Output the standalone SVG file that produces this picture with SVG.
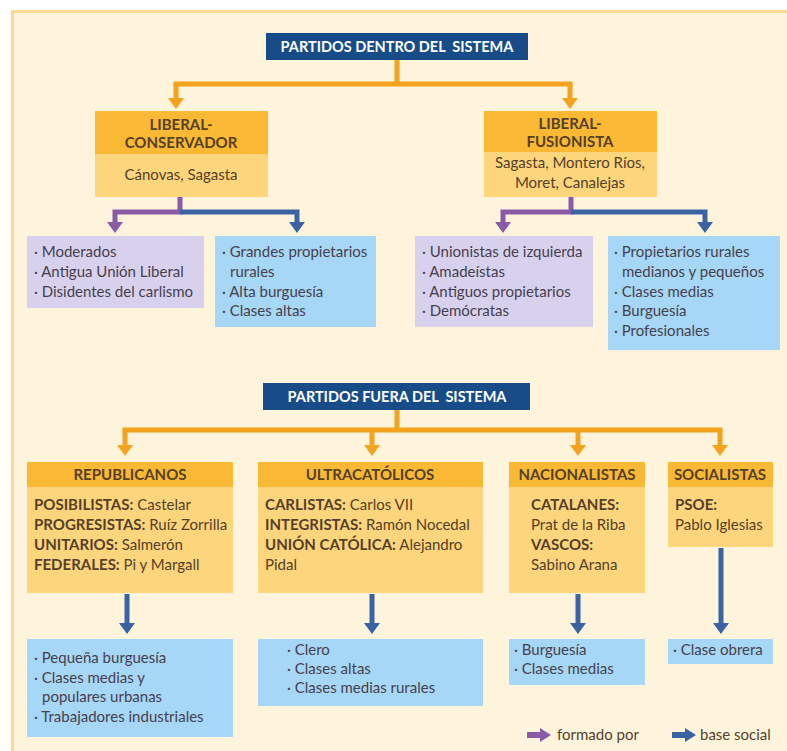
<svg xmlns="http://www.w3.org/2000/svg" width="787" height="751" viewBox="0 0 787 751">
<style>
.t{font-family:Lato,"Open Sans","Liberation Sans",sans-serif;font-size:15px;fill:#463f4c}
.b{font-weight:bold}
.hd{font-family:Lato,"Open Sans","Liberation Sans",sans-serif;font-size:14.5px;font-weight:bold;fill:#ffffff;white-space:pre}
.nh{font-family:Lato,"Open Sans","Liberation Sans",sans-serif;font-size:15px;font-weight:bold;fill:#55402a}
.ot{font-family:Lato,"Open Sans","Liberation Sans",sans-serif;font-size:15px;fill:#55402a}
.hdr{fill:#174c88}
.oh{fill:#f9b935}
.ob{fill:#fdd57c}
.li{fill:#d8d1ee}
.bl{fill:#a7d7f6}
.co{fill:none;stroke:#f4a31f;stroke-width:5}
.cp{fill:none;stroke:#8a5aa6;stroke-width:5}
.cb{fill:none;stroke:#3a63a3;stroke-width:5}
</style>
<defs>
<marker id="ao" markerUnits="userSpaceOnUse" markerWidth="12" markerHeight="16" refX="1" refY="8" orient="auto"><path d="M0,0 L11,8 L0,16 z" fill="#f4a31f"/></marker>
<marker id="ap" markerUnits="userSpaceOnUse" markerWidth="12" markerHeight="16" refX="1" refY="8" orient="auto"><path d="M0,0 L11,8 L0,16 z" fill="#8a5aa6"/></marker>
<marker id="ab" markerUnits="userSpaceOnUse" markerWidth="12" markerHeight="16" refX="1" refY="8" orient="auto"><path d="M0,0 L11,8 L0,16 z" fill="#3a63a3"/></marker>
</defs>
<rect x="0" y="0" width="787" height="751" fill="#ffffff"/>
<rect x="12.5" y="11.5" width="800" height="760" fill="#fef4db" stroke="#fcd98f" stroke-width="3"/>

<g id="connectors">
<path class="co" d="M397,60 V84 M173.5,84 H572.5"/>
<path class="co" d="M176,84 V99" marker-end="url(#ao)"/>
<path class="co" d="M570,84 V99" marker-end="url(#ao)"/>
<path class="cp" d="M180,197 V212"/>
<path class="cp" d="M182.5,212 H115 V223" marker-end="url(#ap)"/>
<path class="cb" d="M180,212 H297 V223" marker-end="url(#ab)"/>
<path class="cp" d="M571,197 V212"/>
<path class="cp" d="M573.5,212 H503 V223" marker-end="url(#ap)"/>
<path class="cb" d="M571,212 H705 V223" marker-end="url(#ab)"/>
<path class="co" d="M397,410 V430 M122.5,430 H722.5"/>
<path class="co" d="M125,430 V446" marker-end="url(#ao)"/>
<path class="co" d="M372,430 V446" marker-end="url(#ao)"/>
<path class="co" d="M578,430 V446" marker-end="url(#ao)"/>
<path class="co" d="M720,430 V446" marker-end="url(#ao)"/>
<path class="cb" d="M127,594 V624" marker-end="url(#ab)"/>
<path class="cb" d="M372,594 V624" marker-end="url(#ab)"/>
<path class="cb" d="M578,594 V624" marker-end="url(#ab)"/>
<path class="cb" d="M721,548 V624" marker-end="url(#ab)"/>
</g>

<g id="dentro">
<rect class="hdr" x="266" y="33" width="262" height="27"/>
<text class="hd" x="397" y="52" text-anchor="middle" xml:space="preserve">PARTIDOS DENTRO DEL  SISTEMA</text>
</g>

<g id="liberal-conservador">
<rect class="oh" x="95" y="111" width="173" height="43"/>
<rect class="ob" x="95" y="154" width="173" height="43"/>
<text class="nh" x="181" y="130" text-anchor="middle">LIBERAL-</text>
<text class="nh" x="181" y="148" text-anchor="middle">CONSERVADOR</text>
<text class="ot" x="181" y="180" text-anchor="middle" font-size="16">Cánovas, Sagasta</text>
</g>

<g id="lc-formado">
<rect class="li" x="27" y="236" width="177" height="72"/>
<text class="t" x="34" y="257">· Moderados</text>
<text class="t" x="34" y="277">· Antigua Unión Liberal</text>
<text class="t" x="34" y="297">· Disidentes del carlismo</text>
</g>

<g id="lc-base">
<rect class="bl" x="215" y="236" width="161" height="91"/>
<text class="t" x="222" y="257">· Grandes propietarios</text>
<text class="t" x="230" y="277">rurales</text>
<text class="t" x="222" y="297">· Alta burguesía</text>
<text class="t" x="222" y="316">· Clases altas</text>
</g>

<g id="liberal-fusionista">
<rect class="oh" x="484" y="111" width="173" height="41"/>
<rect class="ob" x="484" y="152" width="173" height="45"/>
<text class="nh" x="570" y="129" text-anchor="middle">LIBERAL-</text>
<text class="nh" x="570" y="147" text-anchor="middle">FUSIONISTA</text>
<text class="ot" x="570" y="168" text-anchor="middle" font-size="16">Sagasta, Montero Ríos,</text>
<text class="ot" x="570" y="188" text-anchor="middle" font-size="16">Moret, Canalejas</text>
</g>

<g id="lf-formado">
<rect class="li" x="415" y="236" width="178" height="91"/>
<text class="t" x="422" y="257">· Unionistas de izquierda</text>
<text class="t" x="422" y="277">· Amadeístas</text>
<text class="t" x="422" y="297">· Antiguos propietarios</text>
<text class="t" x="422" y="316">· Demócratas</text>
</g>

<g id="lf-base">
<rect class="bl" x="608" y="236" width="172" height="114"/>
<text class="t" x="614" y="257">· Propietarios rurales</text>
<text class="t" x="622" y="277">medianos y pequeños</text>
<text class="t" x="614" y="297">· Clases medias</text>
<text class="t" x="614" y="316">· Burguesía</text>
<text class="t" x="614" y="336">· Profesionales</text>
</g>

<g id="fuera">
<rect class="hdr" x="263" y="383" width="267" height="27"/>
<text class="hd" x="397" y="402" text-anchor="middle" xml:space="preserve">PARTIDOS FUERA DEL  SISTEMA</text>
</g>

<g id="republicanos">
<rect class="oh" x="27" y="462" width="206" height="25"/>
<rect class="ob" x="27" y="487" width="206" height="106"/>
<text class="nh" x="130" y="480" text-anchor="middle">REPUBLICANOS</text>
<text class="ot" x="34" y="510"><tspan class="b">POSIBILISTAS:</tspan> Castelar</text>
<text class="ot" x="34" y="530"><tspan class="b">PROGRESISTAS:</tspan> Ruíz Zorrilla</text>
<text class="ot" x="34" y="550"><tspan class="b">UNITARIOS:</tspan> Salmerón</text>
<text class="ot" x="34" y="570"><tspan class="b">FEDERALES:</tspan> Pi y Margall</text>
</g>

<g id="ultracatolicos">
<rect class="oh" x="258" y="462" width="225" height="25"/>
<rect class="ob" x="258" y="487" width="225" height="106"/>
<text class="nh" x="370" y="480" text-anchor="middle">ULTRACATÓLICOS</text>
<text class="ot" x="265" y="510"><tspan class="b">CARLISTAS:</tspan> Carlos VII</text>
<text class="ot" x="265" y="530"><tspan class="b">INTEGRISTAS:</tspan> Ramón Nocedal</text>
<text class="ot" x="265" y="550"><tspan class="b">UNIÓN CATÓLICA:</tspan> Alejandro</text>
<text class="ot" x="265" y="570">Pidal</text>
</g>

<g id="nacionalistas">
<rect class="oh" x="509" y="462" width="136" height="25"/>
<rect class="ob" x="509" y="487" width="136" height="106"/>
<text class="nh" x="577" y="480" text-anchor="middle">NACIONALISTAS</text>
<text class="nh" x="531" y="510">CATALANES:</text>
<text class="ot" x="531" y="530">Prat de la Riba</text>
<text class="nh" x="531" y="550">VASCOS:</text>
<text class="ot" x="531" y="570">Sabino Arana</text>
</g>

<g id="socialistas">
<rect class="oh" x="668" y="462" width="105" height="25"/>
<rect class="ob" x="668" y="487" width="105" height="60"/>
<text class="nh" x="720" y="480" text-anchor="middle">SOCIALISTAS</text>
<text class="nh" x="675" y="510">PSOE:</text>
<text class="ot" x="675" y="530">Pablo Iglesias</text>
</g>

<g id="rep-base">
<rect class="bl" x="27" y="639" width="206" height="98"/>
<text class="t" x="34" y="663">· Pequeña burguesía</text>
<text class="t" x="34" y="683">· Clases medias y</text>
<text class="t" x="42" y="702">populares urbanas</text>
<text class="t" x="34" y="722">· Trabajadores industriales</text>
</g>

<g id="ultra-base">
<rect class="bl" x="258" y="639" width="225" height="67"/>
<text class="t" x="287" y="655">· Clero</text>
<text class="t" x="287" y="674">· Clases altas</text>
<text class="t" x="287" y="693">· Clases medias rurales</text>
</g>

<g id="nac-base">
<rect class="bl" x="509" y="639" width="136" height="46"/>
<text class="t" x="514" y="655">· Burguesía</text>
<text class="t" x="514" y="674">· Clases medias</text>
</g>

<g id="soc-base">
<rect class="bl" x="668" y="639" width="105" height="25"/>
<text class="t" x="673" y="655">· Clase obrera</text>
</g>

<g id="legend">
<path d="M527,735 H541" stroke="#8a5aa6" stroke-width="6"/>
<path d="M540,728 L551,735 L540,742 z" fill="#8a5aa6"/>
<text class="ot" x="557" y="740">formado por</text>
<path d="M672,735 H686" stroke="#3a63a3" stroke-width="6"/>
<path d="M685,728 L696,735 L685,742 z" fill="#3a63a3"/>
<text class="ot" x="700" y="740">base social</text>
</g>
</svg>
